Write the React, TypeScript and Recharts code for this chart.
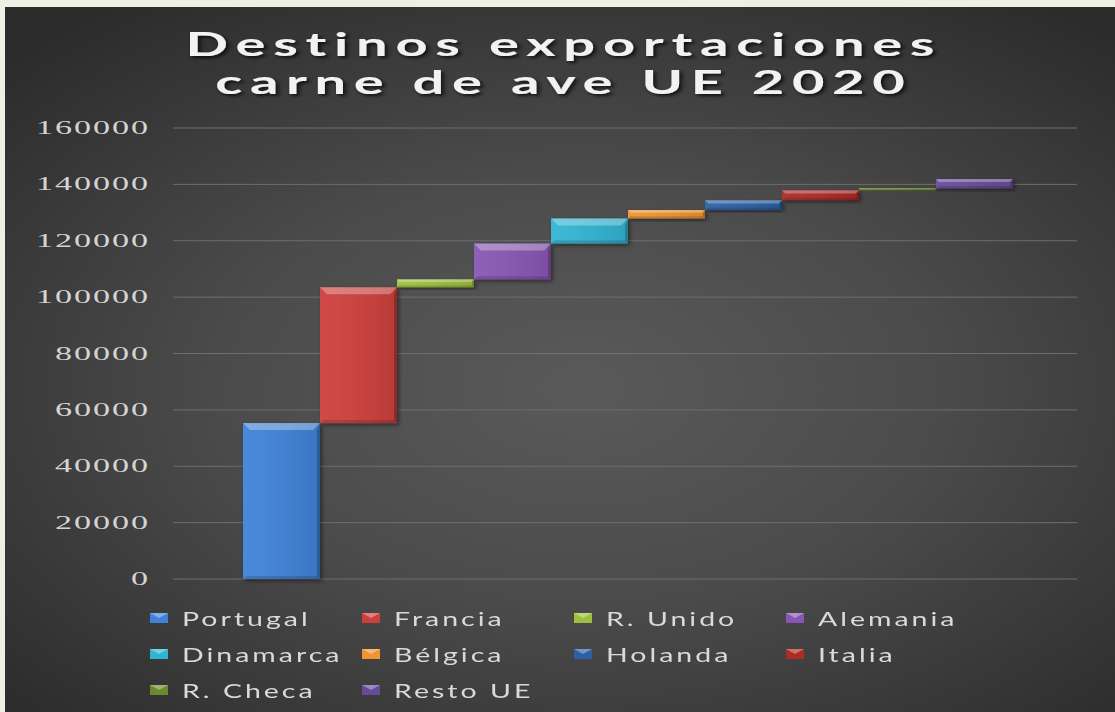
import { BarChart, Bar, XAxis, YAxis, CartesianGrid, Legend } from 'recharts';

const destinations = ['Portugal', 'Francia', 'R. Unido', 'Alemania', 'Dinamarca', 'Bélgica', 'Holanda', 'Italia', 'R. Checa', 'Resto UE'];
const exportTons = [55300, 48200, 2800, 12700, 8900, 3000, 3500, 3500, 700, 3300];
const barColors = ['#3f82d8', '#cd3f3b', '#9dc13c', '#8756b3', '#31b4d2', '#ee9431', '#2c5fa3', '#ad2a25', '#6b8a2c', '#674a9a'];
const yTicks = [0, 20000, 40000, 60000, 80000, 100000, 120000, 140000, 160000];
const titleLines = ['Destinos exportaciones', 'carne de ave UE 2020'];

// waterfall: each destination floats on top of the previous running total
const chartRow: Record<string, any> = { name: 'UE 2020' };
let running = 0;
destinations.forEach((d, i) => {
    chartRow[d] = [running, running + exportTons[i]];
    running += exportTons[i];
});
const chartData = [chartRow];

const BevelBar = (props: any) => {
    const { x, y, width, height, fill } = props;
    if (width == null || height == null || width <= 0) return null;
    const h = Math.max(Math.abs(height), 1.5);
    const top = height < 0 ? y + height : y;
    const b = Math.min(7, h / 3);
    const s = Math.min(3, h / 4);
    const r = x + width;
    const bt = top + h;
    return (
        <g filter="url(#barShadow)">
            <rect x={x} y={top} width={width} height={h} fill={fill} />
            <rect x={x} y={top} width={width} height={h} fill="url(#barSheen)" />
            <polygon points={`${x},${top} ${r},${top} ${r - b},${top + b} ${x + b},${top + b}`} fill="#ffffff" fillOpacity={0.3} />
            <polygon points={`${x},${bt} ${r},${bt} ${r - s},${bt - s} ${x + s},${bt - s}`} fill="#000000" fillOpacity={0.15} />
            <polygon points={`${r},${top} ${r},${bt} ${r - s},${bt - s} ${r - s},${top + b}`} fill="#000000" fillOpacity={0.22} />
        </g>
    );
};

const YTick = ({ x, y, payload }: any) => (
    <text
        transform={`translate(${x},${y}) scale(1.9,1)`}
        textAnchor="end"
        dy="0.34em"
        fill="#d4d4d4"
        fontFamily="'Liberation Serif', serif"
        fontSize={18}
        letterSpacing={1}
    >
        {payload.value}
    </text>
);

const LegendContent = ({ payload }: any) => {
    const items = [...(payload || [])].sort(
        (a: any, b: any) => destinations.indexOf(a.value) - destinations.indexOf(b.value)
    );
    return (
        <div style={{ display: 'grid', gridTemplateColumns: 'repeat(4, 212px)' }}>
            {items.map((entry: any) => (
                <div key={entry.value} style={{ height: 36, display: 'flex', alignItems: 'center' }}>
                    <svg width={18} height={10} style={{ marginRight: 14, flex: 'none' }}>
                        <rect x={0} y={0} width={18} height={10} fill={entry.color} />
                        <polygon points="0,0 18,0 9,5" fill="#ffffff" fillOpacity={0.35} />
                    </svg>
                    <span
                        style={{
                            display: 'inline-block',
                            transform: 'scaleX(1.5)',
                            transformOrigin: 'left center',
                            letterSpacing: 2,
                            whiteSpace: 'nowrap',
                            color: '#dadada',
                            fontFamily: 'Lato, sans-serif',
                            fontSize: 19,
                            fontVariantLigatures: 'none',
                        }}
                    >
                        {entry.value}
                    </span>
                </div>
            ))}
        </div>
    );
};

export default function App() {
    return (
        <div style={{ position: 'fixed', left: 0, top: 0, width: 1115, height: 712, background: '#edf0e2' }}>
            <div
                style={{
                    position: 'absolute',
                    left: 5,
                    top: 7,
                    width: 1110,
                    height: 705,
                    overflow: 'hidden',
                    background: 'radial-gradient(ellipse 72% 68% at 52% 54%, #5a5a5a 0%, #4b4b4b 45%, #2b2b2b 100%)',
                }}
            >
                <svg width={1110} height={120} style={{ position: 'absolute', left: 0, top: 0 }}>
                    <defs>
                        <filter id="titleShadow" x="-10%" y="-30%" width="120%" height="160%">
                            <feDropShadow dx="1.5" dy="2" stdDeviation="1.5" floodColor="#000" floodOpacity="0.75" />
                        </filter>
                        <filter id="barShadow" x="-10%" y="-10%" width="130%" height="140%">
                            <feDropShadow dx="2" dy="2" stdDeviation="2" floodColor="#000" floodOpacity="0.45" />
                        </filter>
                        <linearGradient id="barSheen" x1="0" y1="0" x2="1" y2="0">
                            <stop offset="0%" stopColor="#ffffff" stopOpacity={0.06} />
                            <stop offset="100%" stopColor="#000000" stopOpacity={0.1} />
                        </linearGradient>
                    </defs>
                    {titleLines.map((line, i) => (
                        <text
                            key={line}
                            transform={`translate(555,${49 + i * 38}) scale(1.75,1)`}
                            textAnchor="middle"
                            textLength={i === 0 ? 428 : 394}
                            lengthAdjust="spacing"
                            fill="#f2f2f2"
                            fontFamily="Lato, sans-serif"
                            fontWeight={700}
                            fontSize={32}
                            style={{ fontVariantLigatures: 'none' }}
                            filter="url(#titleShadow)"
                        >
                            {line}
                        </text>
                    ))}
                </svg>
                <div style={{ position: 'absolute', left: 0, top: 0 }}>
                    <BarChart
                        width={1110}
                        height={705}
                        data={chartData}
                        margin={{ top: 121, right: 38, left: 0, bottom: 133 }}
                        barCategoryGap={64}
                        barGap={0}
                    >
                        <CartesianGrid vertical={false} stroke="#6e6e6e" />
                        <XAxis dataKey="name" hide padding={{ left: 6, right: 0 }} />
                        <YAxis
                            width={168}
                            domain={[0, 160000]}
                            ticks={yTicks}
                            axisLine={false}
                            tickLine={false}
                            tickMargin={17}
                            tick={<YTick />}
                            interval={0}
                        />
                        <Legend
                            layout="horizontal"
                            verticalAlign="middle"
                            align="center"
                            wrapperStyle={{ top: 593, left: 145, width: 880 }}
                            content={<LegendContent />}
                        />
                        {destinations.map((d, i) => (
                            <Bar
                                key={d}
                                dataKey={d}
                                name={d}
                                fill={barColors[i]}
                                shape={<BevelBar />}
                                isAnimationActive={false}
                            />
                        ))}
                    </BarChart>
                </div>
            </div>
        </div>
    );
}
